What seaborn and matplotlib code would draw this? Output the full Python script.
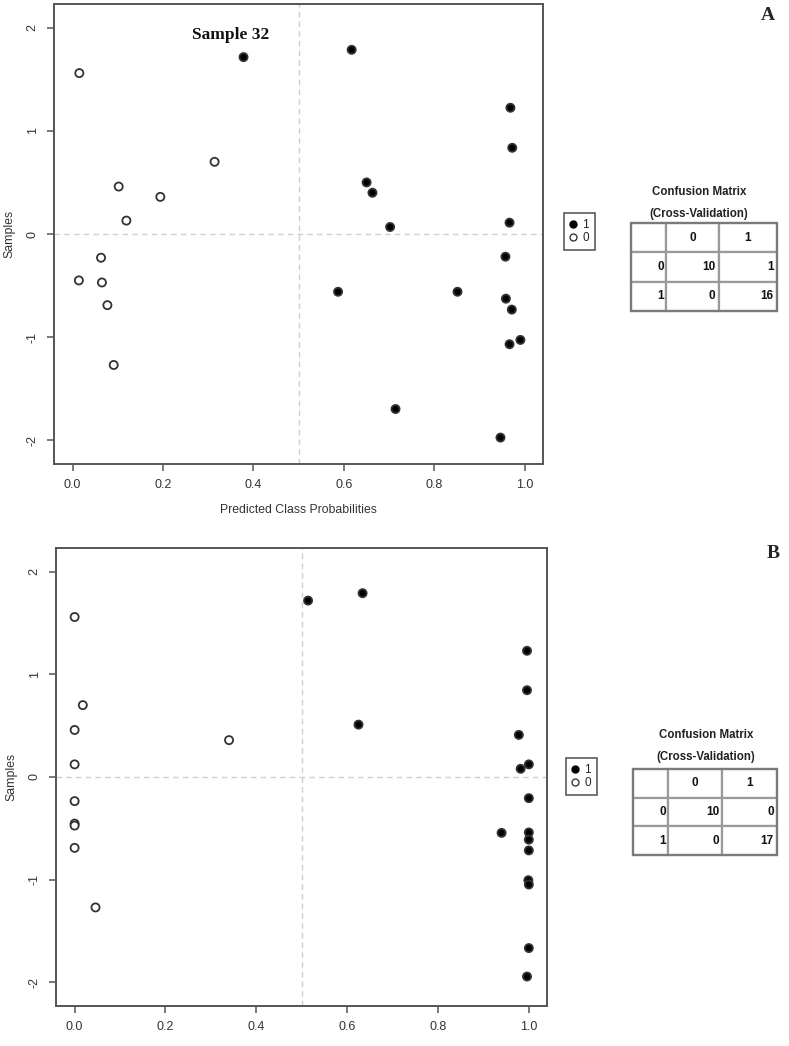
import matplotlib

matplotlib.use("Agg")
import matplotlib.pyplot as plt
import pandas as pd
import seaborn as sns
from matplotlib.lines import Line2D

sns.set_theme(context="notebook", style="ticks")
plt.rcParams["font.family"] = ["Liberation Sans", "DejaVu Sans"]

# --- data ---------------------------------------------------------------
# Panel A: class 0 (open) and class 1 (filled)
a_prob_0 = [0.015, 0.314, 0.102, 0.194, 0.119, 0.063, 0.014, 0.065, 0.077, 0.091]
a_samp_0 = [1.56, 0.70, 0.46, 0.36, 0.13, -0.23, -0.45, -0.47, -0.69, -1.27]
a_prob_1 = [0.378, 0.617, 0.968, 0.972, 0.650, 0.663, 0.702, 0.966, 0.957,
            0.587, 0.851, 0.958, 0.971, 0.990, 0.966, 0.714, 0.946]
a_samp_1 = [1.715, 1.786, 1.224, 0.836, 0.50, 0.40, 0.068, 0.11, -0.22,
            -0.56, -0.56, -0.627, -0.733, -1.027, -1.069, -1.697, -1.974]

# Panel B
b_prob_0 = [0.0, 0.018, 0.0, 0.34, 0.0, 0.0, 0.0, 0.0, 0.0, 0.046]
b_samp_0 = [1.558, 0.70, 0.458, 0.359, 0.123, -0.235, -0.454, -0.473, -0.69, -1.27]
b_prob_1 = [0.514, 0.634, 0.996, 0.996, 0.625, 0.978, 1.0, 0.982, 1.0,
            0.94, 1.0, 1.0, 1.0, 0.999, 1.0, 1.0, 0.996]
b_samp_1 = [1.718, 1.79, 1.229, 0.845, 0.51, 0.41, 0.123, 0.08, -0.206,
            -0.544, -0.54, -0.61, -0.715, -1.005, -1.047, -1.666, -1.943]

# confusion matrices (rows/cols = class 0, class 1)
conf_a = [[10, 1], [0, 16]]
conf_b = [[10, 0], [0, 17]]
classes = ["0", "1"]

x_ticks = [0.0, 0.2, 0.4, 0.6, 0.8, 1.0]
y_ticks = [-2, -1, 0, 1, 2]

W, H = 789, 1046


def fig_rect(x0, y0, x1, y1):
    """pixel box (top-left origin) -> figure fraction rect"""
    return [x0 / W, 1 - y1 / H, (x1 - x0) / W, (y1 - y0) / H]


def scatter_panel(fig, rect, prob0, samp0, prob1, samp1, xlabel=None):
    ax = fig.add_axes(rect)
    df = pd.DataFrame({
        "prob": prob0 + prob1,
        "sample": samp0 + samp1,
        "cls": ["0"] * len(prob0) + ["1"] * len(prob1),
    })
    ax.axvline(0.5, color="#cfcfcf", ls=(0, (4, 3)), lw=1.0, zorder=0)
    ax.axhline(0, color="#cfcfcf", ls=(0, (4, 3)), lw=1.0, zorder=0)
    sns.scatterplot(data=df, x="prob", y="sample", hue="cls",
                    palette={"0": "white", "1": "black"}, edgecolor="#333333",
                    linewidth=1.3, s=34, legend=False, ax=ax, zorder=3)
    ax.set_xlim(-0.041, 1.04)
    ax.set_ylim(-2.23, 2.23)
    ax.set_xticks(x_ticks, [f"{t:.1f}" for t in x_ticks])
    ax.set_yticks(y_ticks, [str(t) for t in y_ticks], rotation=90, va="center")
    for s in ax.spines.values():
        s.set_color("#555555")
        s.set_linewidth(1.4)
    ax.tick_params(length=5, width=1.1, color="#555555", labelsize=9,
                   labelcolor="#333333", pad=6)
    ax.set_xlabel(xlabel or "", fontsize=8.8, color="#333333", labelpad=9)
    ax.set_ylabel("Samples", fontsize=8.8, color="#333333", labelpad=8)
    return ax


def class_legend(fig, anchor):
    handles = [
        Line2D([], [], marker="o", ls="", mfc="black", mec="black", ms=5, label="1"),
        Line2D([], [], marker="o", ls="", mfc="white", mec="#3a3a3a", mew=1.0, ms=5, label="0"),
    ]
    leg = fig.legend(handles=handles, loc="upper left", bbox_to_anchor=anchor,
                     frameon=True, fancybox=False, edgecolor="#222222",
                     fontsize=8.5, handlelength=0.6, handletextpad=0.45,
                     borderpad=0.5, labelspacing=0.1, borderaxespad=0)
    leg.get_frame().set_linewidth(1.1)


def conf_table(fig, rect, conf, title_xy, col_w):
    cx, cy = title_xy
    fig.text(cx / W, 1 - cy / H, "Confusion Matrix", ha="center", va="center",
             fontsize=8.3, fontweight="bold", color="#222222")
    fig.text(cx / W, 1 - (cy + 22) / H, "(Cross-Validation)", ha="center", va="center",
             fontsize=8.3, fontweight="bold", color="#222222")
    tax = fig.add_axes(rect)
    tax.axis("off")
    cells = [[""] + classes] + [[classes[i]] + [str(v) for v in row] for i, row in enumerate(conf)]
    tbl = tax.table(cellText=cells, cellLoc="right", colWidths=col_w, bbox=[0, 0, 1, 1])
    tbl.auto_set_font_size(False)
    tbl.set_fontsize(8.5)
    for (r, c), cell in tbl.get_celld().items():
        cell.set_edgecolor("#9a9a9a")
        cell.set_linewidth(1.6)
        cell.get_text().set_fontweight("bold")
        cell.get_text().set_color("#111111")
        cell.PAD = 0.06
        if r == 0:
            cell._loc = "center"
            cell.get_text().set_ha("center")
    tax.add_patch(plt.Rectangle((0, 0), 1, 1, transform=tax.transAxes, fill=False,
                                edgecolor="#7a7a7a", lw=1.6, clip_on=False))


fig = plt.figure(figsize=(W / 100, H / 100), dpi=100)

ax_a = scatter_panel(fig, fig_rect(54, 4, 543, 464), a_prob_0, a_samp_0, a_prob_1, a_samp_1,
                     xlabel="Predicted Class Probabilities")
ax_a.text(0.349, 1.93, "Sample 32", ha="center", va="center", fontsize=12.5,
          fontweight="bold", family=["Liberation Serif", "DejaVu Serif"], color="#111111")
class_legend(fig, (564 / W, 1 - 213 / H))
conf_table(fig, fig_rect(631, 223, 777, 311), conf_a, (699, 192), [0.239, 0.362, 0.399])
fig.text(768 / W, 1 - 16 / H, "A", ha="center", va="center", fontsize=14,
         fontweight="bold", family=["Liberation Serif", "DejaVu Serif"])

ax_b = scatter_panel(fig, fig_rect(56, 548, 547, 1006), b_prob_0, b_samp_0, b_prob_1, b_samp_1)
class_legend(fig, (566 / W, 1 - 758 / H))
conf_table(fig, fig_rect(633, 769, 777, 855), conf_b, (706, 735), [0.243, 0.378, 0.379])
fig.text(773 / W, 1 - 553 / H, "B", ha="center", va="center", fontsize=14,
         fontweight="bold", family=["Liberation Serif", "DejaVu Serif"])

fig.savefig("out.png", dpi=100)
